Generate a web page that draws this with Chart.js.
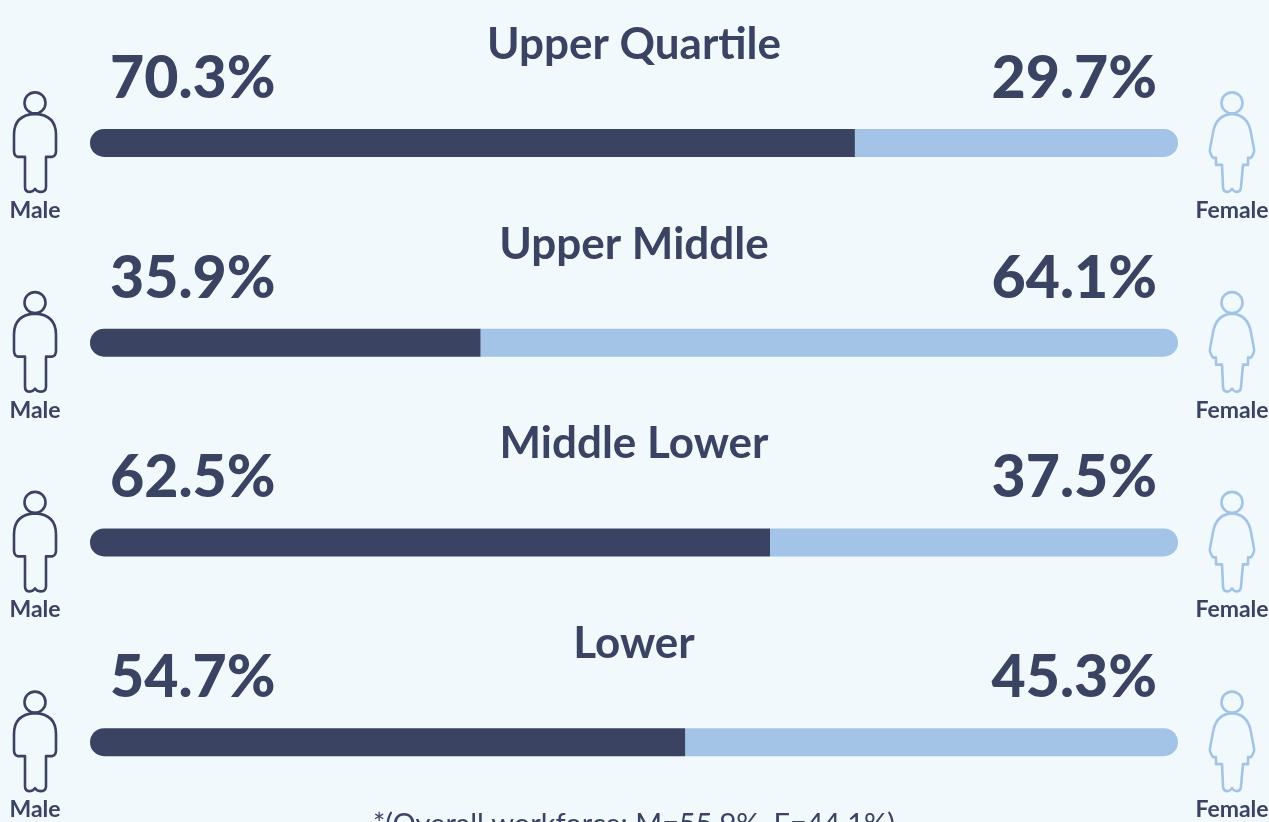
<!DOCTYPE html>
<html><head><meta charset="utf-8">
<script src="https://cdn.jsdelivr.net/npm/chart.js@4"></script>
<style>
html,body{margin:0;padding:0;background:#f1f9fd;overflow:hidden;width:1269px;height:822px}
#w{position:relative;width:1269px;height:900px}
canvas{display:block}
</style></head><body>
<div id="w"><canvas id="c" width="1269" height="900"></canvas></div>
<script>
const categories = ["Upper Quartile","Upper Middle","Middle Lower","Lower"];
const maleShare = [70.3,35.9,62.5,54.7];
const femaleShare = [29.7,64.1,37.5,45.3];
const maleLabel = "Male";
const femaleLabel = "Female";
const footnote = "*(Overall workforce: M=55.9%, F=44.1%)";
const DARK = "#3a4362", LIGHT = "#a3c4e6";
const FONT = "Lato, sans-serif";

function head(ctx){ctx.beginPath();ctx.arc(0,-40,10.5,0,Math.PI*2);ctx.stroke();}
function malePath(ctx){
  head(ctx);
  ctx.beginPath();
  ctx.moveTo(-10,14);
  ctx.lineTo(-10,44);
  ctx.quadraticCurveTo(-10,49,-5,49);
  ctx.quadraticCurveTo(-2,49,0,46);
  ctx.quadraticCurveTo(2,49,5,49);
  ctx.quadraticCurveTo(11,49,11,44);
  ctx.lineTo(11,14);
  ctx.lineTo(17,14);
  ctx.quadraticCurveTo(21,13,21,8);
  ctx.lineTo(21,-8);
  ctx.quadraticCurveTo(21,-28,0,-29);
  ctx.quadraticCurveTo(-21,-28,-21,-8);
  ctx.lineTo(-21,8);
  ctx.quadraticCurveTo(-21,13,-17,14);
  ctx.closePath();
  ctx.stroke();
}
function femalePath(ctx){
  head(ctx);
  ctx.beginPath();
  ctx.moveTo(-10,22);
  ctx.lineTo(-9,44);
  ctx.quadraticCurveTo(-9,49,-4,49);
  ctx.quadraticCurveTo(-2,49,0,46);
  ctx.quadraticCurveTo(2,49,4,49);
  ctx.quadraticCurveTo(9,49,9,44);
  ctx.lineTo(11,22);
  ctx.lineTo(16,22);
  ctx.lineTo(16,15);
  ctx.lineTo(19,15);
  ctx.quadraticCurveTo(23,9,22,6);
  ctx.lineTo(19,-10);
  ctx.quadraticCurveTo(16,-28,0,-29);
  ctx.quadraticCurveTo(-16,-28,-19,-10);
  ctx.lineTo(-22,6);
  ctx.quadraticCurveTo(-23,9,-19,15);
  ctx.lineTo(-16,15);
  ctx.lineTo(-16,22);
  ctx.closePath();
  ctx.stroke();
}

const overlay = {
  id:"overlay",
  afterDraw(chart){
    const {ctx, scales:{x,y}} = chart;
    const cx = x.getPixelForValue(50);
    const leftX = x.getPixelForValue(0), rightX = x.getPixelForValue(100);
    ctx.save();
    categories.forEach((name,i)=>{
      const cy = y.getPixelForValue(i);
      ctx.textBaseline = "alphabetic";
      ctx.fillStyle = DARK;
      ctx.textAlign = "center";
      ctx.font = "700 44px "+FONT;
      ctx.fillText(name, cx, cy-84);
      ctx.font = "900 59px "+FONT;
      ctx.textAlign = "left";
      ctx.fillText(maleShare[i].toFixed(1)+"%", leftX+20, cy-45);
      ctx.textAlign = "right";
      ctx.fillText(femaleShare[i].toFixed(1)+"%", rightX-21, cy-45);
      ctx.font = "700 23px "+FONT;
      ctx.textAlign = "center";
      ctx.fillText(maleLabel, leftX-55, cy+75);
      ctx.fillText(femaleLabel, rightX+54, cy+75);
      ctx.lineWidth = 2.6;
      ctx.lineJoin = "round";
      ctx.save();ctx.translate(leftX-55, cy);ctx.strokeStyle = DARK;malePath(ctx);ctx.restore();
      ctx.save();ctx.translate(rightX+54, cy);ctx.strokeStyle = LIGHT;femalePath(ctx);ctx.restore();
    });
    ctx.fillStyle = DARK;
    ctx.textAlign = "center";
    ctx.font = "400 29px "+FONT;
    ctx.fillText(footnote, cx, y.getPixelForValue(categories.length-1)+92);
    ctx.restore();
  }
};

new Chart(document.getElementById("c"),{
  type:"bar",
  data:{labels:categories,datasets:[
    {label:maleLabel,data:maleShare,backgroundColor:DARK,barThickness:28,borderSkipped:false,inflateAmount:0,
     borderRadius:{topLeft:14,bottomLeft:14,topRight:0,bottomRight:0},stack:"s"},
    {label:femaleLabel,data:femaleShare,backgroundColor:LIGHT,barThickness:28,borderSkipped:false,inflateAmount:0,
     borderRadius:{topLeft:0,bottomLeft:0,topRight:14,bottomRight:14},stack:"s"}
  ]},
  options:{
    indexAxis:"y",responsive:false,animation:false,
    layout:{padding:{left:90,right:91,top:43,bottom:58}},
    plugins:{legend:{display:false},tooltip:{enabled:false},title:{display:false}},
    scales:{
      x:{stacked:true,min:0,max:100,display:false},
      y:{stacked:true,display:false}
    }
  },
  plugins:[overlay]
});
</script>
</body></html>
